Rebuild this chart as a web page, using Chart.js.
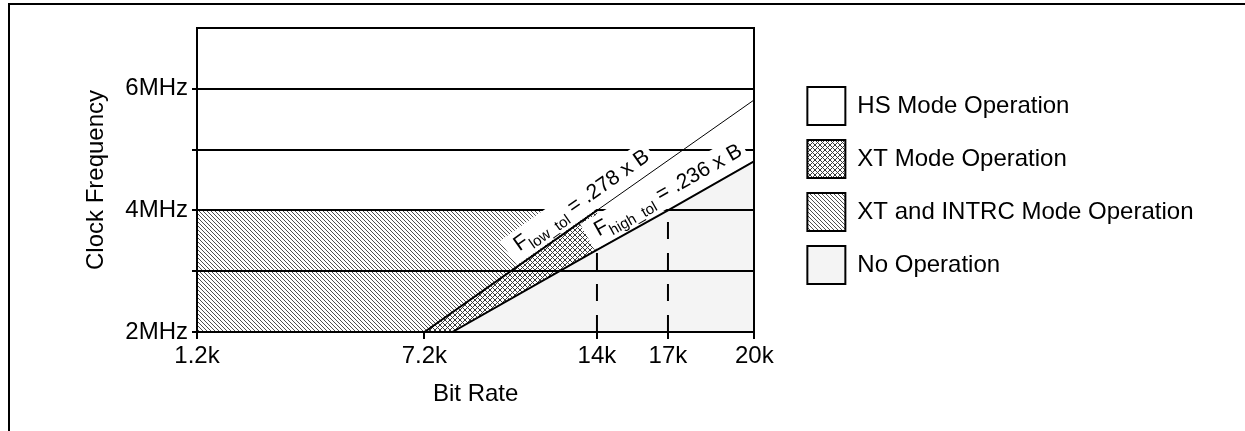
<!DOCTYPE html>
<html>
<head>
<meta charset="utf-8">
<title>Bit rate vs clock frequency</title>
<script src="https://cdn.jsdelivr.net/npm/chart.js@4/dist/chart.umd.min.js"></script>
<style>
    html, body { margin: 0; padding: 0; background: #fff; overflow: hidden; }
    #frame {
        position: absolute; left: 8px; top: 3px; width: 1300px; height: 500px;
        border-top: 2px solid #000; border-left: 2px solid #000;
    }
    #chartBox { position: absolute; left: 0; top: 0; width: 1245px; height: 431px; }
</style>
</head>
<body>
<div id="frame"></div>
<div id="chartBox"><canvas id="chartCanvas"></canvas></div>
<script>
// axis ticks (bit rate in kbps, clock in MHz)
const bitRateTicks = [1.2, 7.2, 14, 17, 20];
const bitRateLabels = ['1.2k', '7.2k', '14k', '17k', '20k'];
const clockTicks = [2, 3, 4, 5, 6, 7];
const clockLabels = ['2MHz', '', '4MHz', '', '6MHz', ''];

// tolerance lines
const lowTolBitRate = [7.2, 14, 20];
const lowTolClock = [2.0, 4.0, 5.82];
const highTolBitRate = [8.3, 14, 17, 20];
const highTolClock = [2.0, 3.35, 4.0, 4.81];

// operating regions (polygon corners)
const hsBitRate = [1.2, 1.2, 20, 20, 17];
const hsClock = [4, 7, 7, 4.81, 4];
const xtBitRate = [7.2, 14, 14, 8.3];
const xtClock = [2, 4, 3.35, 2];
const intrcBitRate = [1.2, 1.2, 14, 7.2];
const intrcClock = [2, 4, 4, 2];
const noOpBitRate = [8.3, 14, 14, 17, 20, 20];
const noOpClock = [2, 3.35, 4, 4, 4.81, 2];

// dashed markers at 14k and 17k
const markerClock = [2, 4];

const FONT = '"Liberation Sans", Arial, sans-serif';
Chart.defaults.font.family = FONT;
Chart.defaults.color = '#000';

const toPoints = (xs, ys) => xs.map((x, i) => ({ x, y: ys[i] }));

// the bit rate axis of the drawing is not linear: each tick sits at its own place
const tickPlaces = [0, 0.408, 0.7176, 0.845, 1];

const toPlace = (v) => {
    let i = 0;
    while (i < bitRateTicks.length - 2 && v > bitRateTicks[i + 1]) i++;
    const t = (v - bitRateTicks[i]) / (bitRateTicks[i + 1] - bitRateTicks[i]);
    return tickPlaces[i] + t * (tickPlaces[i + 1] - tickPlaces[i]);
};

const fromPlace = (p) => {
    let i = 0;
    while (i < tickPlaces.length - 2 && p > tickPlaces[i + 1]) i++;
    const t = (p - tickPlaces[i]) / (tickPlaces[i + 1] - tickPlaces[i]);
    return bitRateTicks[i] + t * (bitRateTicks[i + 1] - bitRateTicks[i]);
};

const BaseLinear = Chart.LinearScale || Chart.registry.getScale('linear');

class PiecewiseScale extends BaseLinear {
    static id = 'piecewise';
    static defaults = {};

    getPixelForValue(value) {
        if (value === null || isNaN(value)) return NaN;
        return this.getPixelForDecimal(toPlace(value));
    }

    getValueForPixel(pixel) {
        return fromPlace(this.getDecimalForPixel(pixel));
    }
}
Chart.register(PiecewiseScale);

const makePattern = (size, color, draw) => {
    const c = document.createElement('canvas');
    c.width = size;
    c.height = size;
    const g = c.getContext('2d');
    g.fillStyle = '#fff';
    g.fillRect(0, 0, size, size);
    g.fillStyle = color;
    draw(g, size);
    return g.createPattern(c, 'repeat');
};

const hatch = makePattern(4, '#505050', (g, n) => {
    for (let i = 0; i < n; i++) g.fillRect(i, i, 1, 1);
});

const crossHatch = makePattern(5, '#3a3a3a', (g, n) => {
    for (let i = 0; i < n; i++) {
        g.fillRect(i, i, 1, 1);
        g.fillRect(n - 1 - i, i, 1, 1);
    }
});

const region = (label, xs, ys, fill, legendOrder, order) => ({
    label,
    data: toPoints(xs, ys),
    fill: 'shape',
    backgroundColor: fill,
    borderColor: 'rgba(0,0,0,0)',
    borderWidth: 0,
    pointRadius: 0,
    legendOrder,
    order,
});

const marker = (bitRate) => ({
    label: 'marker ' + bitRate,
    data: toPoints([bitRate, bitRate], markerClock),
    borderColor: '#000',
    borderWidth: 2,
    borderDash: [17, 14],
    pointRadius: 0,
    fill: false,
    order: 3,
});

const datasets = [
    region('HS Mode Operation', hsBitRate, hsClock, '#ffffff', 0, 9),
    region('XT Mode Operation', xtBitRate, xtClock, crossHatch, 1, 6),
    region('XT and INTRC Mode Operation', intrcBitRate, intrcClock, hatch, 2, 7),
    region('No Operation', noOpBitRate, noOpClock, '#f4f4f4', 3, 8),
    marker(14),
    marker(17),
    {
        label: 'highTol',
        data: toPoints(highTolBitRate, highTolClock),
        borderColor: '#000',
        borderWidth: 2,
        pointRadius: 0,
        fill: false,
        order: 2,
    },
    {
        label: 'lowTol',
        data: toPoints(lowTolBitRate, lowTolClock),
        borderColor: '#000',
        borderWidth: 1,
        segment: { borderWidth: (ctx) => (ctx.p0DataIndex === 0 ? 2 : 1) },
        pointRadius: 0,
        fill: false,
        order: 1,
    },
];

// rotated formula labels sitting on the tolerance lines
const toleranceLabels = [
    { line: 'lowTol', at: 11.2, sub: 'low_tol', rest: ' = .278 x B' },
    { line: 'highTol', at: 14.3, sub: 'high_tol', rest: ' = .236 x B' },
];

const toleranceLabelPlugin = {
    id: 'toleranceLabels',
    afterDraw(chart) {
        const ctx = chart.ctx;
        const xScale = chart.scales.x;
        toleranceLabels.forEach((lab) => {
            const idx = chart.data.datasets.findIndex((d) => d.label === lab.line);
            const pts = chart.getDatasetMeta(idx).data;
            const p0 = pts[0];
            const p1 = pts[pts.length - 1];
            const angle = Math.atan2(p1.y - p0.y, p1.x - p0.x);
            const ax = xScale.getPixelForValue(lab.at);
            const ay = p0.y + (ax - p0.x) * (p1.y - p0.y) / (p1.x - p0.x);

            ctx.save();
            ctx.translate(ax, ay);
            ctx.rotate(angle);
            ctx.font = `21px ${FONT}`;
            const w1 = ctx.measureText('F').width;
            const w3 = ctx.measureText(lab.rest).width;
            ctx.font = `15px ${FONT}`;
            const w2 = ctx.measureText(lab.sub).width;

            ctx.fillStyle = '#fff';
            ctx.fillRect(-10, -31, w1 + w2 + w3 + 14, 29.5);

            ctx.fillStyle = '#000';
            ctx.textBaseline = 'alphabetic';
            ctx.font = `21px ${FONT}`;
            ctx.fillText('F', 0, -11);
            ctx.font = `15px ${FONT}`;
            ctx.fillText(lab.sub, w1, -5);
            ctx.font = `21px ${FONT}`;
            ctx.fillText(lab.rest, w1 + w2, -11);
            ctx.restore();
        });
    },
};

const axisFont = { size: 24 };

new Chart(document.getElementById('chartCanvas').getContext('2d'), {
    type: 'line',
    data: { datasets },
    options: {
        responsive: true,
        maintainAspectRatio: false,
        animation: false,
        layout: { padding: { left: 82, top: 28, right: 41.5, bottom: 22 } },
        scales: {
            x: {
                type: 'piecewise',
                min: 1.2,
                max: 20,
                afterBuildTicks: (s) => { s.ticks = bitRateTicks.map((v) => ({ value: v })); },
                afterFit: (s) => { s.height = 77; },
                ticks: {
                    autoSkip: false,
                    maxRotation: 0,
                    padding: 3,
                    font: axisFont,
                    callback: (v) => bitRateLabels[bitRateTicks.indexOf(v)],
                },
                grid: { drawOnChartArea: false, tickLength: 7, tickColor: '#000', lineWidth: 2, z: 1 },
                border: { display: true, color: '#000', width: 2, z: 1 },
                title: { display: true, text: 'Bit Rate', font: axisFont, padding: 0 },
            },
            y: {
                min: 2,
                max: 7,
                afterBuildTicks: (s) => { s.ticks = clockTicks.map((v) => ({ value: v })); },
                afterFit: (s) => { s.width = 115; },
                ticks: {
                    autoSkip: false,
                    padding: 4,
                    font: axisFont,
                    callback: (v) => clockLabels[clockTicks.indexOf(v)],
                },
                grid: {
                    color: '#000',
                    lineWidth: 2,
                    tickLength: 5,
                    tickColor: (ctx) => (ctx.tick && ctx.tick.value === 7 ? 'rgba(0,0,0,0)' : '#000'),
                    z: 1,
                },
                border: { display: true, color: '#000', width: 2, z: 1 },
                title: { display: true, text: 'Clock Frequency', font: axisFont, padding: 0 },
            },
            y2: {
                position: 'right',
                min: 2,
                max: 7,
                afterFit: (s) => { s.width = 38; },
                ticks: { display: false },
                grid: { drawOnChartArea: false, drawTicks: false },
                border: { display: true, color: '#000', width: 2, z: 1 },
            },
        },
        plugins: {
            tooltip: { enabled: false },
            legend: {
                position: 'right',
                align: 'start',
                maxWidth: 600,
                title: { display: true, text: '', font: { size: 12 }, padding: { top: 29.6, bottom: 0 } },
                labels: {
                    boxWidth: 38,
                    boxHeight: 38,
                    padding: 15,
                    font: axisFont,
                    color: '#000',
                    generateLabels: (chart) => chart.data.datasets
                        .map((d, i) => ({ d, i }))
                        .filter(({ d }) => d.legendOrder !== undefined)
                        .sort((a, b) => a.d.legendOrder - b.d.legendOrder)
                        .map(({ d, i }) => ({
                            text: d.label,
                            fillStyle: d.backgroundColor,
                            strokeStyle: '#000',
                            lineWidth: 2,
                            hidden: false,
                            datasetIndex: i,
                        })),
                },
            },
        },
    },
    plugins: [toleranceLabelPlugin],
});
</script>
</body>
</html>
